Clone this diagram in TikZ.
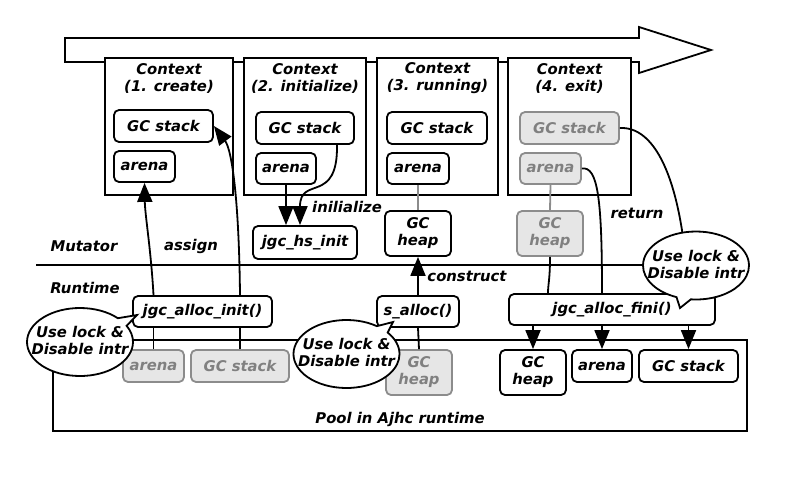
\documentclass[tikz,border=0pt]{standalone}
\usepackage{fontspec}
\setmainfont{DejaVu Sans}
\usetikzlibrary{shapes.callouts,arrows.meta}
\definecolor{gfill}{HTML}{E6E6E6}
\definecolor{gline}{HTML}{8C8C8C}
\definecolor{gtext}{HTML}{808080}
\begin{document}
\begin{tikzpicture}[x=1pt,y=-1pt, line width=1.8pt,
  every node/.style={font=\bfseries\itshape\fontsize{14.8}{17}\selectfont},
  ctx/.style={draw, fill=white, inner sep=0pt},
  box/.style={draw, rounded corners=5pt, fill=white, inner sep=0pt, align=center},
  gbox/.style={box, draw=gline, fill=gfill, text=gtext},
  lbl/.style={inner sep=0pt, align=center},
  arr/.style={-{Triangle[length=19pt,width=15pt]}},
  gcon/.style={draw=gline},
  bub/.style={ellipse callout, draw, fill=white, inner sep=0pt, callout pointer arc=16, minimum width=106pt, minimum height=68pt},
]
\useasboundingbox (0,0) rectangle (800,493);

% time arrow
\draw[fill=white] (65,38) -- (639,38) -- (639,27) -- (711,50) -- (639,73) -- (639,62) -- (65,62) -- cycle;

% contexts
\node[ctx, minimum width=128pt, minimum height=137pt] (c1) at (169,126.5) {};
\node[ctx, minimum width=122pt, minimum height=137pt] (c2) at (305,126.5) {};
\node[ctx, minimum width=121pt, minimum height=137pt] (c3) at (437.5,126.5) {};
\node[ctx, minimum width=123pt, minimum height=137pt] (c4) at (569.5,126.5) {};
\node[lbl] (t1) at (169,78.5) {Context\\(1. create)};
\node[lbl] (t2) at (305,78.5) {Context\\(2. initialize)};
\node[lbl] (t3) at (437.5,78.5) {Context\\(3. running)};
\node[lbl] (t4) at (569.5,78.5) {Context\\(4. exit)};

\node[box, minimum width=99pt, minimum height=32pt] (gs1) at (163.5,126) {GC stack};
\node[box, minimum width=61pt, minimum height=31pt] (ar1) at (144.5,166.5) {arena};
\node[box, minimum width=98pt, minimum height=32pt] (gs2) at (305,128) {GC stack};
\node[box, minimum width=60pt, minimum height=31pt] (ar2) at (286,168.5) {arena};
\node[box, minimum width=100pt, minimum height=32pt] (gs3) at (437,128) {GC stack};
\node[box, minimum width=62pt, minimum height=31pt] (ar3) at (418,168.5) {arena};
\node[gbox, minimum width=99pt, minimum height=32pt] (gs4) at (569.5,128) {GC stack};
\node[gbox, minimum width=61pt, minimum height=31pt] (ar4) at (550.5,168.5) {arena};

\node[box, minimum width=66pt, minimum height=45pt] (heap3) at (418,233.5) {GC\\heap};
\node[gbox, minimum width=66pt, minimum height=45pt] (heap4) at (550,233.5) {GC\\heap};
\node[box, minimum width=104pt, minimum height=33pt] (hsinit) at (305,242.5) {jgc\_hs\_init};

% mutator / runtime separator
\coordinate (ml) at (36,265);
\coordinate (mr) at (700,265);
\draw (ml) -- (mr);
\node[lbl] (mut) at (84,246) {Mutator};
\node[lbl] (rt) at (85,288) {Runtime};
\node[lbl] (assign) at (191,246) {assign};
\node[lbl] (inil) at (347,207) {inilialize};
\node[lbl] (constr) at (467,276) {construct};
\node[lbl] (ret) at (637,213) {return};

% runtime functions
\node[box, minimum width=139pt, minimum height=31pt] (ainit) at (202.5,311.5) {jgc\_alloc\_init()};
\node[box, minimum width=82pt, minimum height=31pt] (salloc) at (418,311.5) {s\_alloc()};
\node[box, minimum width=206pt, minimum height=31pt] (fini) at (612,309.5) {jgc\_alloc\_fini()};

% pool
\node[draw, inner sep=0pt, minimum width=694pt, minimum height=91pt] (pool) at (400,385.5) {};
\node[lbl] (pooll) at (400,419) {Pool in Ajhc runtime};
\node[gbox, minimum width=61pt, minimum height=32pt] (par) at (153.5,366) {arena};
\node[gbox, minimum width=98pt, minimum height=32pt] (pgs) at (240,366) {GC stack};
\node[gbox, minimum width=66pt, minimum height=45pt] (pheap) at (419,372.5) {GC\\heap};
\node[box, minimum width=66pt, minimum height=45pt] (fheap) at (533,372.5) {GC\\heap};
\node[box, minimum width=60pt, minimum height=32pt] (far) at (602,366) {arena};
\node[box, minimum width=99pt, minimum height=32pt] (fgs) at (688.5,366) {GC stack};

% connectors
\draw (par.north) -- (par.north |- ainit.south);
\draw (pgs.north) -- (pgs.north |- ainit.south);
\draw[arr] (par.north |- ainit.north) .. controls (151,250) and (145,215) .. (ar1.south);
\draw[arr] (pgs.north |- ainit.north) .. controls (239,200) and (232,150) .. (gs1.east);
\draw[arr] (ar2.south) -- (ar2.south |- hsinit.north);
\draw[arr] ([xshift=32pt]gs2.south) .. controls (338,205) and (300,175) .. ([xshift=-5pt]hsinit.north);
\draw[gcon] (ar3.south) -- (heap3.north);
\draw[arr] (salloc.north) -- (heap3.south);
\draw (salloc.south) -- (pheap.north);
\draw[gcon] (ar4.south) -- (heap4.north);
\draw (heap4.south) .. controls (550,280) and (548,284) .. ([xshift=-64pt]fini.north);
\draw (ar4.east) .. controls (598,166) and (602,200) .. ([xshift=-10pt]fini.north);
\draw (gs4.east) .. controls (662,126) and (684,200) .. ([xshift=76pt]fini.north);
\draw[arr] (fini.south -| fheap.north) -- (fheap.north);
\draw[arr] (fini.south -| far.north) -- (far.north);
\draw[arr] (fini.south -| fgs.north) -- (fgs.north);

% bubbles
\node[bub, callout absolute pointer={(137,315)}] (b1) at (80,342) {};
\node[lbl] (b1t) at (80,340) {Use lock \&\\Disable intr};
\node[bub, callout absolute pointer={(393,322)}] (b2) at (346.5,354) {};
\node[lbl] (b2t) at (346.5,352) {Use lock \&\\Disable intr};
\node[bub, callout absolute pointer={(680,308)}] (b3) at (696,265.5) {};
\node[lbl] (b3t) at (696,264.5) {Use lock \&\\Disable intr};
\end{tikzpicture}
\end{document}
